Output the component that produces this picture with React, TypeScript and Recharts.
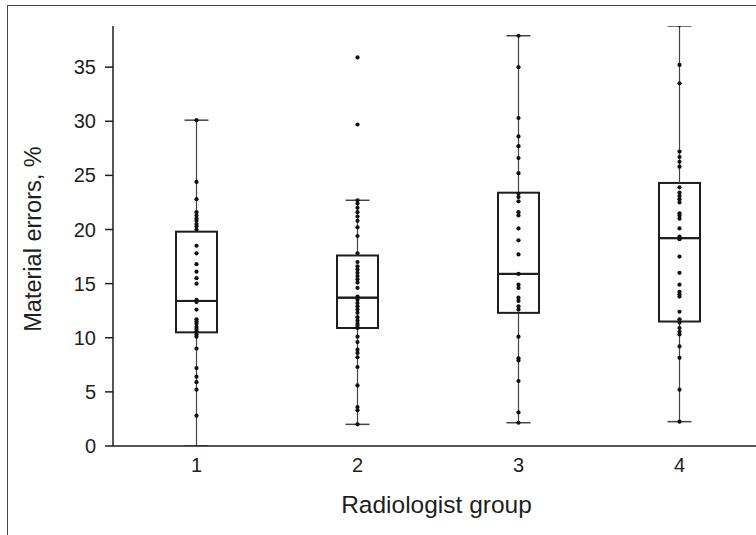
import React from "react";
import { ComposedChart, Bar, Scatter, XAxis, YAxis } from "recharts";

// group labels and box statistics
const groups = ["1", "2", "3", "4"];
const whiskerLow = [0, 2.0, 2.15, 2.25];
const q1 = [10.5, 10.9, 12.3, 11.5];
const median = [13.4, 13.7, 15.9, 19.2];
const q3 = [19.8, 17.6, 23.4, 24.3];
const whiskerHigh = [30.1, 22.7, 37.9, 38.9];

// individual observations per group
const dots1 = [30.1, 24.4, 22.8, 21.6, 21.3, 21.0, 20.8, 20.5, 20.3, 20.0, 18.5, 17.8, 16.8, 16.1, 15.5, 15.0, 13.5, 13.3, 12.6, 11.7, 11.5, 11.3, 11.0, 10.8, 10.6, 10.3, 10.1, 9.0, 7.2, 6.4, 5.9, 5.2, 2.8];
const dots2 = [35.9, 29.7, 22.7, 22.4, 22.0, 21.6, 21.2, 20.8, 20.2, 19.4, 17.8, 17.0, 16.6, 16.3, 16.0, 15.7, 15.4, 15.1, 14.6, 13.8, 13.5, 13.2, 12.9, 12.6, 12.3, 11.9, 11.6, 11.3, 11.1, 10.9, 10.1, 9.6, 8.9, 8.6, 8.2, 7.3, 5.6, 3.6, 3.3, 2.0];
const dots3 = [37.9, 35.0, 30.3, 28.6, 27.7, 26.6, 25.2, 23.3, 23.0, 22.6, 21.6, 21.3, 20.1, 19.0, 17.7, 15.9, 14.9, 14.6, 13.7, 13.4, 12.9, 12.6, 10.1, 8.1, 7.9, 6.0, 3.1, 2.15];
const dots4 = [38.9, 35.2, 33.5, 27.2, 26.7, 26.25, 25.8, 23.9, 23.4, 23.1, 22.8, 22.5, 21.5, 21.3, 21.0, 20.1, 19.35, 19.1, 17.5, 16.0, 14.9, 14.25, 14.0, 13.8, 12.4, 11.7, 11.4, 10.9, 10.55, 10.3, 9.2, 8.15, 5.2, 2.25];

const yTicks = [0, 5, 10, 15, 20, 25, 30, 35];

const FONT = "'Liberation Sans', Arial, sans-serif";
const INK = "#1e1e1e";

const boxRows = groups.map((g, i) => ({
    group: g,
    base: whiskerLow[i],
    lowW: q1[i] - whiskerLow[i],
    lowBox: median[i] - q1[i],
    upBox: q3[i] - median[i],
    upW: whiskerHigh[i] - q3[i],
}));

const points = [dots1, dots2, dots3, dots4].flatMap((arr, i) =>
    arr.map((v) => ({ x: i + 1, y: v }))
);

const Whisker = ({ x, y, width, height, capAt }: any) => {
    const cx = x + width / 2;
    const capY = capAt === "top" ? y : y + height;
    return (
        <g>
            <line x1={cx} x2={cx} y1={y} y2={y + height} stroke="#444" strokeWidth={1.2} />
            <line x1={cx - 12} x2={cx + 12} y1={capY} y2={capY} stroke="#444" strokeWidth={1.5} />
        </g>
    );
};

const BoxPart = ({ x, y, width, height }: any) => (
    <rect x={x} y={y} width={width} height={height} fill="none" stroke={INK} strokeWidth={2} />
);

const Dot = ({ cx, cy }: any) => <circle cx={cx} cy={cy} r={2.1} fill="#111" />;

export default function App() {
    return (
        <div
            style={{
                position: "absolute",
                left: 0,
                top: 0,
                width: 756,
                height: 535,
                overflow: "hidden",
                background: "#fff",
            }}
        >
            {/* frame of the original figure */}
            <div
                style={{
                    position: "absolute",
                    left: 7,
                    top: 5,
                    right: -10,
                    bottom: -10,
                    borderLeft: "1.5px solid #444",
                    borderTop: "1.5px solid #444",
                }}
            />
            <div style={{ position: "absolute", left: 0, top: 0 }}>
                <ComposedChart
                    width={760}
                    height={535}
                    data={boxRows}
                    margin={{ top: 26, right: 0, bottom: 19, left: 0 }}
                >
                    <XAxis
                        dataKey="group"
                        padding={{ left: 3, right: 0 }}
                        height={70}
                        tickLine={false}
                        tickSize={6}
                        tickMargin={6}
                        axisLine={{ stroke: INK, strokeWidth: 1.5 }}
                        tick={{ fill: INK, fontSize: 20, fontFamily: FONT }}
                        label={{
                            value: "Radiologist group",
                            position: "insideBottom",
                            offset: 3,
                            fill: INK,
                            fontSize: 24.5,
                            fontFamily: FONT,
                        }}
                    />
                    <XAxis
                        xAxisId="num"
                        type="number"
                        dataKey="x"
                        domain={[0.5, 4.5]}
                        padding={{ left: 3, right: 0 }}
                        allowDataOverflow
                        hide
                    />
                    <YAxis
                        type="number"
                        domain={[0, 38.8]}
                        ticks={yTicks}
                        allowDataOverflow
                        width={113}
                        tickSize={8}
                        tickMargin={9}
                        axisLine={{ stroke: INK, strokeWidth: 1.5 }}
                        tickLine={{ stroke: INK, strokeWidth: 1.5 }}
                        tick={{ fill: INK, fontSize: 20, fontFamily: FONT }}
                        label={{
                            content: ({ viewBox }: any) => {
                                const lx = viewBox.x + 33;
                                const ly = viewBox.y + viewBox.height / 2 + 3;
                                return (
                                    <text
                                        x={lx}
                                        y={ly}
                                        transform={`rotate(-90 ${lx} ${ly})`}
                                        textAnchor="middle"
                                        dominantBaseline="central"
                                        fill={INK}
                                        fontSize={23.5}
                                        fontFamily={FONT}
                                    >
                                        Material errors, %
                                    </text>
                                );
                            },
                        }}
                    />
                    <Bar dataKey="base" stackId="box" barSize={41} fill="none" isAnimationActive={false} />
                    <Bar
                        dataKey="lowW"
                        stackId="box"
                        barSize={41}
                        shape={(p: any) => <Whisker {...p} capAt="bottom" />}
                        isAnimationActive={false}
                    />
                    <Bar dataKey="lowBox" stackId="box" barSize={41} shape={BoxPart} isAnimationActive={false} />
                    <Bar dataKey="upBox" stackId="box" barSize={41} shape={BoxPart} isAnimationActive={false} />
                    <Bar
                        dataKey="upW"
                        stackId="box"
                        barSize={41}
                        shape={(p: any) => <Whisker {...p} capAt="top" />}
                        isAnimationActive={false}
                    />
                    <Scatter
                        data={points}
                        xAxisId="num"
                        dataKey="y"
                        shape={Dot}
                        isAnimationActive={false}
                    />
                </ComposedChart>
            </div>
        </div>
    );
}
